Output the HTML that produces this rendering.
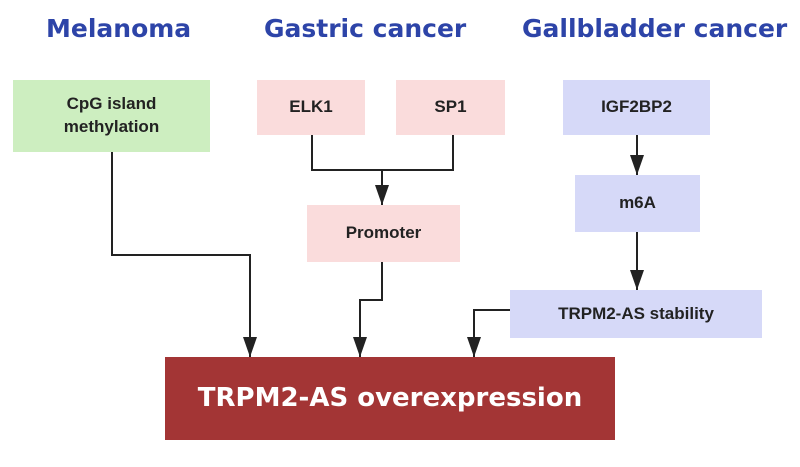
<!DOCTYPE html>
<html><head><style>
body{margin:0;width:800px;height:467px;background:#fff;position:relative;overflow:hidden;font-family:"Liberation Sans",sans-serif}
.t{position:absolute;top:14px;color:#2d44a8;font-size:25px;font-weight:bold;font-family:"Comic Sans MS","DejaVu Sans",sans-serif;white-space:nowrap}
.b{position:absolute;display:flex;align-items:center;justify-content:center;text-align:center;font-weight:bold;font-size:17px;color:#222;line-height:1.35}
.g{background:#cdeec0}.p{background:#fadcdc}.v{background:#d6d9f8}
</style></head><body>
<div class="t" style="left:46px">Melanoma</div>
<div class="t" style="left:264px">Gastric cancer</div>
<div class="t" style="left:522px">Gallbladder cancer</div>
<div class="b g" style="left:13px;top:80px;width:197px;height:72px">CpG island<br>methylation</div>
<div class="b p" style="left:257px;top:80px;width:108px;height:55px">ELK1</div>
<div class="b p" style="left:396px;top:80px;width:109px;height:55px">SP1</div>
<div class="b v" style="left:563px;top:80px;width:147px;height:55px">IGF2BP2</div>
<div class="b p" style="left:307px;top:205px;width:153px;height:57px">Promoter</div>
<div class="b v" style="left:575px;top:175px;width:125px;height:57px">m6A</div>
<div class="b v" style="left:510px;top:290px;width:252px;height:48px">TRPM2-AS stability</div>
<div class="b" style="left:165px;top:357px;width:450px;height:83px;background:#a33535;color:#fff;font-size:26px;font-family:'Comic Sans MS','DejaVu Sans',sans-serif">TRPM2-AS overexpression</div>
<svg width="800" height="467" style="position:absolute;left:0;top:0">
<defs><marker id="a" markerWidth="20" markerHeight="14" refX="20" refY="7" orient="auto" markerUnits="userSpaceOnUse" viewBox="0 0 20 14"><path d="M0,0 L20,7 L0,14z" fill="#222"/></marker></defs>
<g stroke="#222" stroke-width="2" fill="none">
<path d="M312,135 V170 H453 V135"/>
<path d="M382,170 V205" marker-end="url(#a)"/>
<path d="M637,135 V175" marker-end="url(#a)"/>
<path d="M637,232 V290" marker-end="url(#a)"/>
<path d="M112,152 V255 H250 V357" marker-end="url(#a)"/>
<path d="M382,262 V300 H360 V357" marker-end="url(#a)"/>
<path d="M510,310 H474 V357" marker-end="url(#a)"/>
</g></svg>
</body></html>
